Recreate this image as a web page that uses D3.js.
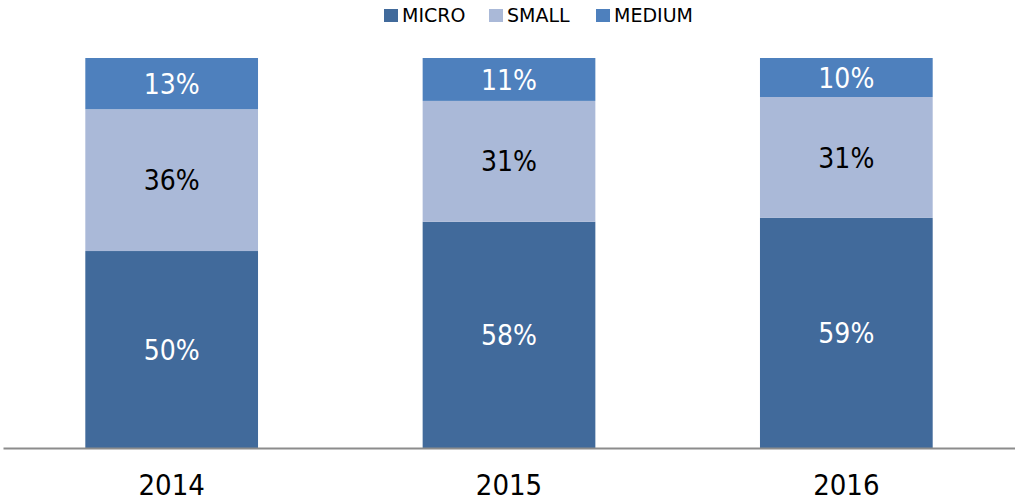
<!DOCTYPE html>
<html>
<head>
<meta charset="utf-8">
<script src="https://cdn.jsdelivr.net/npm/d3@7"></script>
<style>
  body { margin: 0; background: #fff; }
  text { font-family: "DejaVu Sans Condensed", "DejaVu Sans", sans-serif; }
</style>
</head>
<body>
<div id="viz"></div>
<script>
// data
let years = ['2014', '2015', '2016']
let sizes = ['MICRO', 'SMALL', 'MEDIUM']
let micro = [50, 58, 59]
let small = [36, 31, 31]
let medium = [13, 11, 10]

let width = 1015
let height = 503

let colors = d3.scaleOrdinal()
				.domain(sizes)
				.range(['#416a9b', '#aab9d8', '#4e80bd'])

let labelColor = d3.scaleOrdinal()
				.domain(sizes)
				.range(['#ffffff', '#000000', '#ffffff'])

let svg = d3.select('#viz')
			.append('svg')
			.attr('width', width)
			.attr('height', height)

//table for the stack
let table = years.map((y, i) => ({year: y, MICRO: micro[i], SMALL: small[i], MEDIUM: medium[i]}))
let raw = {MICRO: micro, SMALL: small, MEDIUM: medium}

let series = d3.stack()
				.keys(sizes)
				.offset(d3.stackOffsetExpand)(table)

let x = d3.scaleBand()
			.domain(years)
			.range([3, 1015])
			.paddingInner(0.488)
			.paddingOuter(0.244)

let y = d3.scaleLinear()
			.domain([0, 1])
			.range([448, 58])

let groups = svg.selectAll('g.layer')
				.data(series)
				.enter()
				.append('g')
				.attr('class', 'layer')
				.attr('fill', d => colors(d.key))

groups.selectAll('rect')
		.data(d => d)
		.enter()
		.append('rect')
		.attr('x', d => x(d.data.year))
		.attr('y', d => y(d[1]))
		.attr('width', x.bandwidth())
		.attr('height', d => y(d[0]) - y(d[1]))

//segment labels
series.forEach(s => {
	svg.append('g')
		.selectAll('text')
		.data(s)
		.enter()
		.append('text')
		.attr('x', d => x(d.data.year) + x.bandwidth() / 2)
		.attr('y', d => (y(d[0]) + y(d[1])) / 2)
		.attr('dy', '0.36em')
		.attr('text-anchor', 'middle')
		.attr('font-size', 28)
		.attr('fill', labelColor(s.key))
		.text((d, i) => raw[s.key][i] + '%')
})

//baseline + years
let axis = svg.append('g')
				.attr('transform', 'translate(0,448)')
				.call(d3.axisBottom(x).tickSize(0).tickPadding(26))

axis.select('.domain')
	.attr('stroke', '#8c8c8c')
	.attr('stroke-width', 2)

axis.selectAll('text')
	.attr('font-size', 29)
	.attr('fill', '#000')

//legend
let legendX = [384, 489, 596]
let legend = svg.append('g')
				.selectAll('g')
				.data(sizes)
				.enter()
				.append('g')
				.attr('transform', (d, i) => `translate(${legendX[i]}, 0)`)

legend.append('rect')
		.attr('y', 9)
		.attr('width', 14)
		.attr('height', 13)
		.attr('fill', d => colors(d))

legend.append('text')
		.attr('x', 18)
		.attr('y', 22)
		.attr('font-size', 19)
		.style('font-family', '"DejaVu Sans", sans-serif')
		.attr('fill', '#000')
		.text(d => d)
</script>
</body>
</html>
